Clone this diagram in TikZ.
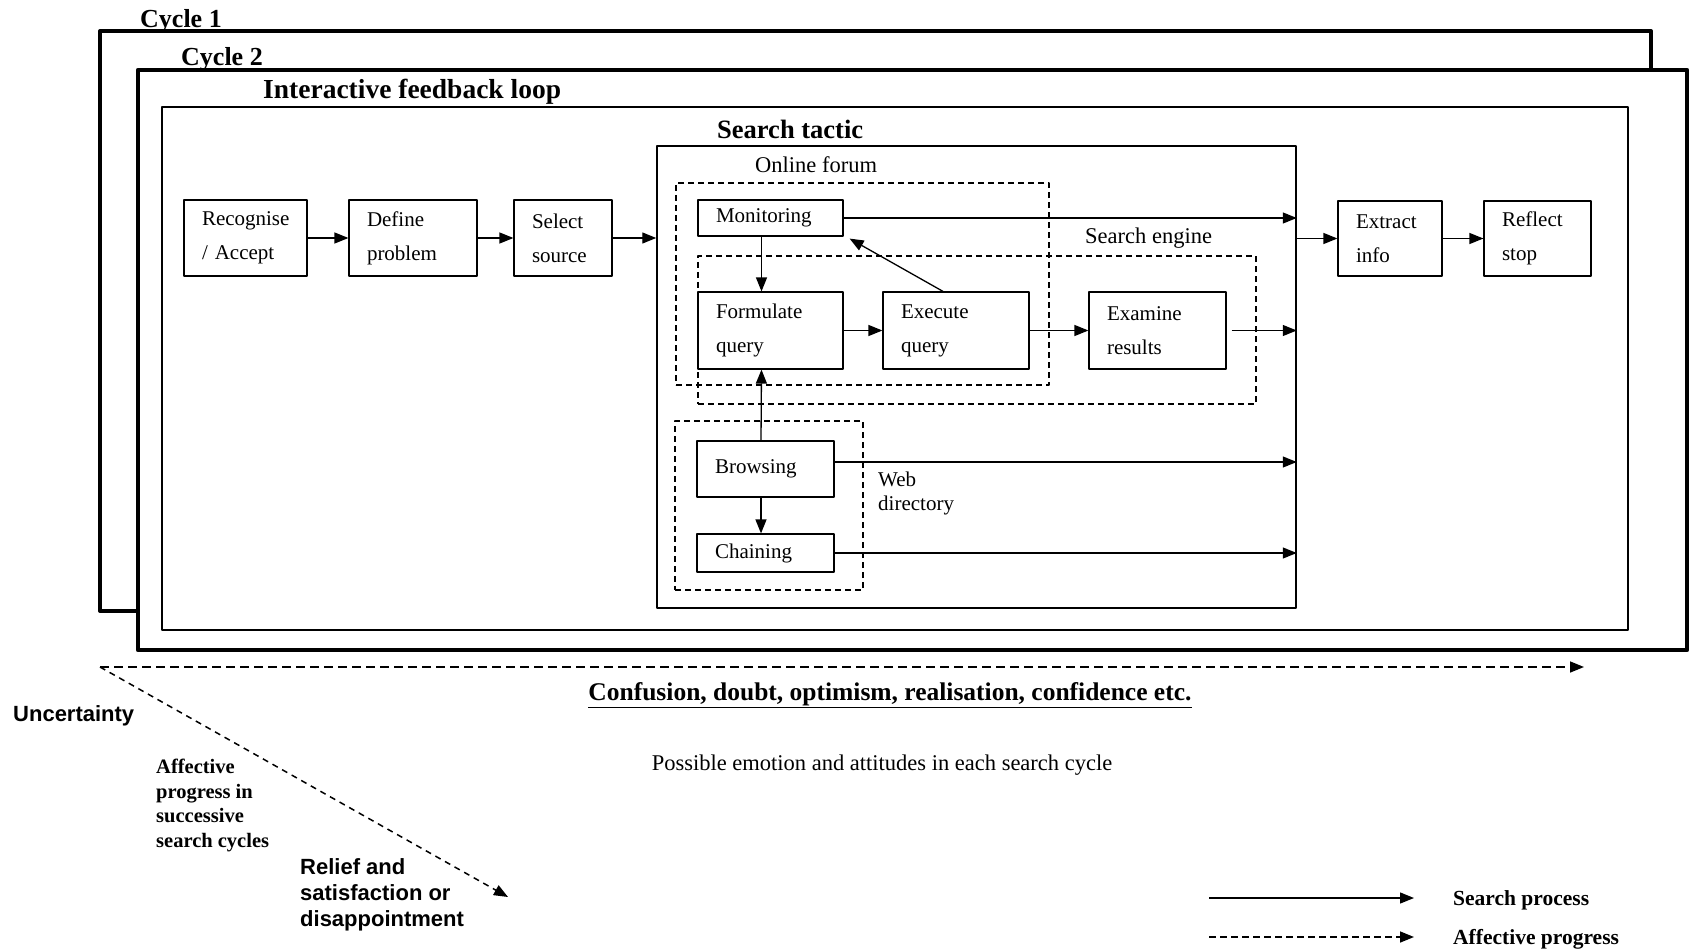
\documentclass[tikz,border=0pt]{standalone}
\usepackage{fontspec}
\setmainfont{Liberation Serif}
\setsansfont{Liberation Sans}
\usetikzlibrary{arrows.meta,positioning}
\tikzset{
  stepbox/.style={draw, line width=1.2pt, align=left, inner xsep=18pt, inner ysep=0pt, font=\fontsize{21}{34}\selectfont},
  zone/.style={draw, line width=1.3pt, dash pattern=on 6pt off 4pt, inner sep=0pt},
  frame/.style={draw, line width=#1, inner sep=0pt},
  lbl/.style={inner sep=0pt, anchor=west},
  arr/.style={line width=1.3pt, -{Triangle[length=14pt,width=11pt]}},
  affarr/.style={line width=1.5pt, dash pattern=on 9pt off 5pt, -{Triangle[length=14pt,width=11pt]}}
}
\begin{document}
\begin{tikzpicture}[x=1pt, y=-1pt, line join=round]
\useasboundingbox (0,0) rectangle (1689,952);
% cycles and loops
\node[frame=4pt, fill=white, minimum width=1551, minimum height=580] (cyc1) at (875.5,321) {};
\node[lbl, font=\bfseries\fontsize{26}{26}\selectfont] at (140,21) {Cycle 1};
\node[frame=4.5pt, fill=white, minimum width=1549, minimum height=580] (cyc2) at (912.5,360) {};
\node[lbl, font=\bfseries\fontsize{26}{26}\selectfont] at (181,59) {Cycle 2};
\node[frame=1.5pt, minimum width=1466, minimum height=523] (loop) at (895,368.5) {};
\node[lbl, font=\bfseries\fontsize{27.5}{27.5}\selectfont] at (263,92) {Interactive feedback loop};
\node[frame=1.5pt, minimum width=639, minimum height=462] (tac) at (976.5,377) {};
\node[lbl, font=\bfseries\fontsize{26.5}{26.5}\selectfont] at (717,129) {Search tactic};
\node[zone, minimum width=373, minimum height=202] (forum) at (862.5,284) {};
\node[lbl, font=\fontsize{22.5}{22.5}\selectfont] at (755,165) {Online forum};
\node[zone, minimum width=558, minimum height=148] (engine) at (977,330) {};
\node[lbl, font=\fontsize{22.5}{22.5}\selectfont] at (1085,238) {Search engine};
\node[zone, minimum width=188, minimum height=169] (webdir) at (769,505.5) {};
\node[lbl, align=left, font=\fontsize{21}{24}\selectfont] at (878,493) {Web\\directory};

% steps
\node[stepbox, text width=87, minimum width=123, minimum height=76] (rec) at (245.5,238) {Recognise\\/ Accept};
\node[stepbox, text width=92, minimum width=128, minimum height=76] (def) at (413,238) {Define\\problem};
\node[stepbox, text width=62, minimum width=98, minimum height=76] (sel) at (563,238) {Select\\source};
\node[stepbox, text width=68, minimum width=104, minimum height=75] (ext) at (1390,238.5) {Extract\\info};
\node[stepbox, text width=71, minimum width=107, minimum height=75] (refl) at (1537.5,238.5) {Reflect\\stop};
\node[stepbox, text width=109, minimum width=145, minimum height=36] (mon) at (770.5,218) {Monitoring};
\node[stepbox, text width=109, minimum width=145, minimum height=77] (form) at (770.5,330.5) {Formulate\\query};
\node[stepbox, text width=110, minimum width=146, minimum height=77] (exe) at (956,330.5) {Execute\\query};
\node[stepbox, text width=101, minimum width=137, minimum height=77] (exa) at (1157.5,330.5) {Examine\\results};
\node[stepbox, text width=101, minimum width=137, minimum height=56] (brw) at (765.5,469) {Browsing};
\node[stepbox, text width=101, minimum width=137, minimum height=38] (chn) at (765.5,553) {Chaining};

% search process
\draw[arr] (rec) -- (def);
\draw[arr] (def) -- (sel);
\draw[arr] (sel.east) -- (tac.west |- sel.east);
\draw[arr] (tac.east |- ext.west) -- (ext.west);
\draw[arr] (ext) -- (refl);
\draw[arr] (mon.east) -- (tac.east |- mon.east);
\draw[arr] ([xshift=-9pt]mon.south) -- ([xshift=-9pt]form.north);
\draw[arr] ([xshift=-13pt]exe.north) -- ([xshift=6pt,yshift=-2pt]mon.south east);
\draw[arr] (form) -- (exe);
\draw[arr] (exe) -- (exa);
\draw[arr] ([xshift=5pt]exa.east) -- (tac.east |- exa.east);
\draw[arr] ([xshift=-4.5pt]brw.north) -- ([xshift=-9pt]form.south);
\coordinate (brwout) at ([yshift=7pt]brw.east);
\draw[arr] (brwout) -- (tac.east |- brwout);
\draw[arr] ([xshift=-4.5pt]brw.south) -- ([xshift=-4.5pt]chn.north);
\draw[arr] (chn.east) -- (tac.east |- chn.east);

% affective progress
\coordinate (aff0) at (100,667);
\coordinate (aff1) at (1584,667);
\coordinate (aff2) at (508,897);
\draw[affarr] (aff0) -- (aff1);
\draw[affarr, dash pattern=on 6pt off 5pt] (aff0) -- (aff2);
\node[lbl, font=\bfseries\sffamily\fontsize{22}{22}\selectfont] (unc) at (13,716) {Uncertainty};
\node[font=\bfseries\fontsize{25.5}{25.5}\selectfont] (moods) at (890,695) {\underline{Confusion, doubt, optimism, realisation, confidence etc.}};
\node[font=\fontsize{22.5}{22.5}\selectfont] (poss) at (882,765) {Possible emotion and attitudes in each search cycle};
\node[inner sep=0pt, anchor=north west, align=left, font=\bfseries\fontsize{20.5}{24.5}\selectfont] (succ) at (156,759) {Affective\\progress in\\successive\\search cycles};
\node[inner sep=0pt, anchor=north west, align=left, font=\bfseries\sffamily\fontsize{22}{26}\selectfont] (relief) at (300,858) {Relief and\\satisfaction or\\disappointment};

% legend
\coordinate (lg1) at (1209,898);
\coordinate (lg2) at (1414,898);
\coordinate (lg3) at (1209,937);
\coordinate (lg4) at (1414,937);
\draw[arr] (lg1) -- (lg2);
\draw[affarr, dash pattern=on 7pt off 4pt] (lg3) -- (lg4);
\node[lbl, font=\bfseries\fontsize{21.5}{21.5}\selectfont] at (1453,900) {Search process};
\node[lbl, font=\bfseries\fontsize{21.5}{21.5}\selectfont] at (1453,939) {Affective progress};
\end{tikzpicture}
\end{document}
